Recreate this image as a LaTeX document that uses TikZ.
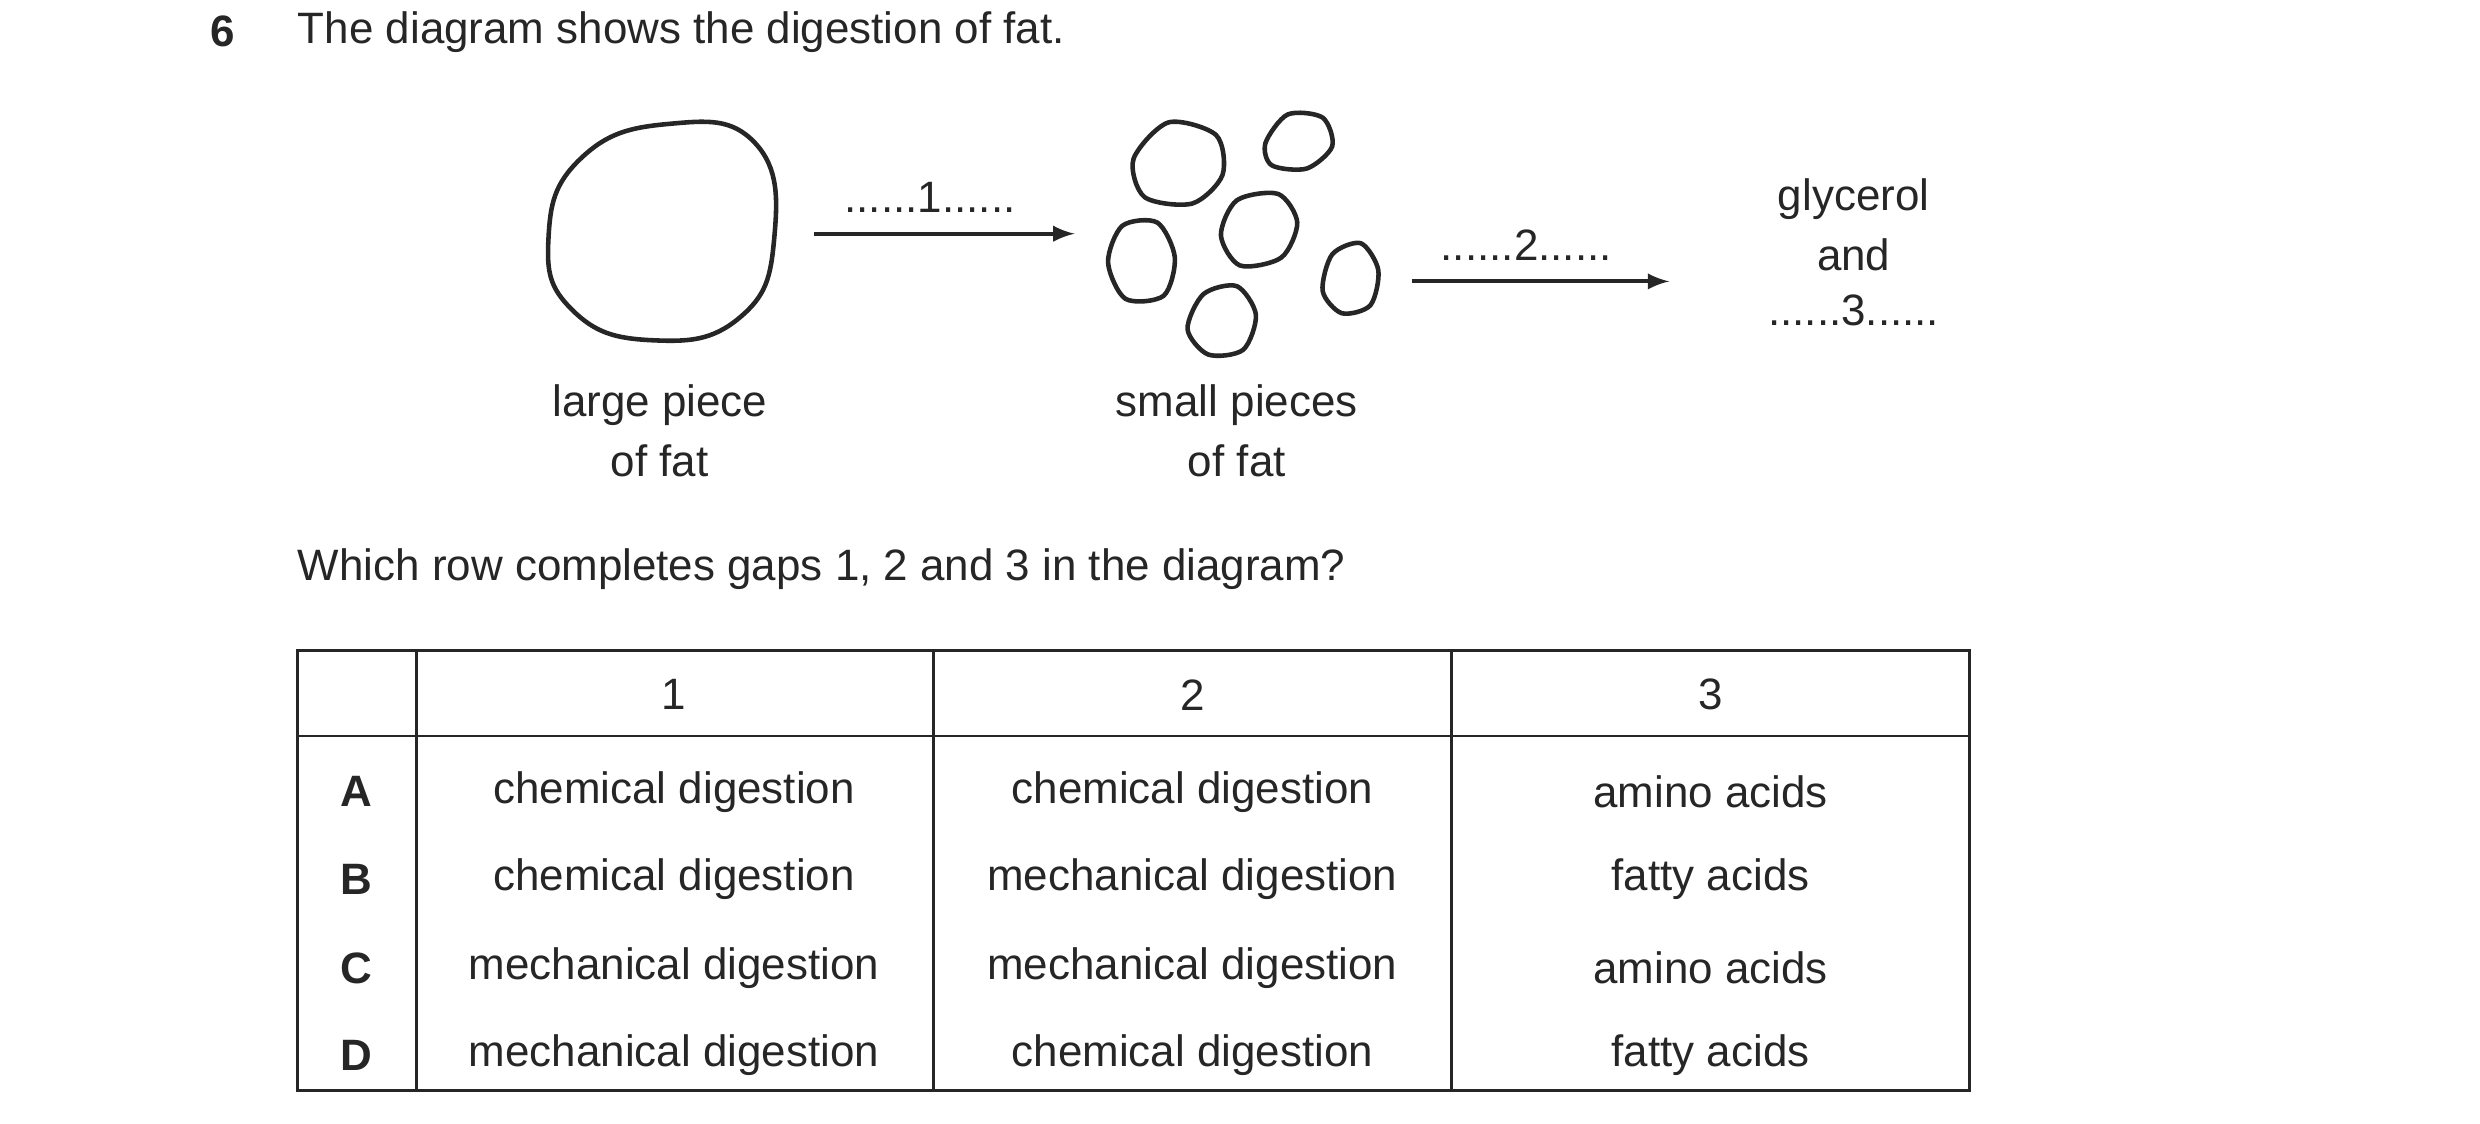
\documentclass[tikz,border=0pt]{standalone}
\usepackage{fontspec}
\setmainfont{Liberation Sans}
\begin{document}
\begin{tikzpicture}[x=0.0159cm,y=-0.0159cm,
  txt/.style={font=\fontsize{12.5pt}{15pt}\selectfont,text=black!85},
  bl/.style={line width=1.3pt,black!85},
  arr/.style={line width=1.1pt,black!85,-latex},
  tl/.style={line width=0.8pt,black!85}]
\useasboundingbox (0,0) rectangle (1560,707);
\node[txt,font=\fontsize{12.5pt}{15pt}\bfseries] (q) at (140,20) {6};
\node[txt,anchor=west,inner sep=0] (title) at (187,20) {The diagram shows the digestion of fat.};
% large blob
\draw[bl] plot[smooth cycle,tension=0.8] coordinates{(345,150)(365,100)(420,78)(475,90)(487,150)(465,200)(410,214)(360,195)};
\node[txt] (lp) at (415,255) {large piece};
\node[txt] (lp2) at (415,290) {of fat};
% small blobs
\draw[bl] plot[smooth cycle] coordinates{(713,100)(735,77)(765,85)(769,110)(750,128)(720,124)};
\draw[bl] plot[smooth cycle] coordinates{(796,90)(810,72)(832,74)(838,92)(822,106)(800,104)};
\draw[bl] plot[smooth cycle] coordinates{(768,148)(778,126)(804,122)(816,140)(806,162)(780,167)};
\draw[bl] plot[smooth cycle] coordinates{(697,165)(706,142)(728,140)(739,162)(732,186)(708,188)};
\draw[bl] plot[smooth cycle] coordinates{(747,207)(757,185)(778,180)(790,198)(782,220)(760,223)};
\draw[bl] plot[smooth cycle] coordinates{(832,183)(838,160)(856,153)(867,170)(862,192)(844,197)};
\node[txt] (sp) at (778,255) {small pieces};
\node[txt] (sp2) at (778,290) {of fat};
% arrows
\coordinate (a1s) at (512,147); \coordinate (a1e) at (676,147);
\draw[arr] (a1s) -- (a1e);
\node[txt] (l1) at (585,124) {......1......};
\coordinate (a2s) at (888,177); \coordinate (a2e) at (1050,177);
\draw[arr] (a2s) -- (a2e);
\node[txt] (l2) at (960,154) {......2......};
\node[txt] (g1) at (1166,125) {glycerol};
\node[txt] (g2) at (1166,160) {and};
\node[txt] (g3) at (1166,195) {......3......};
\node[txt,anchor=west,inner sep=0] (qq) at (187,358) {Which row completes gaps 1, 2 and 3 in the diagram?};
% table
\draw[tl] (187,409) rectangle (1239,686);
\draw[tl] (187,463) -- (1239,463);
\foreach \x in {262,587,913} \draw[tl] (\x,409) -- (\x,686);
\node[txt] (h1) at (424,437) {1};
\node[txt] (h2) at (750,437) {2};
\node[txt] (h3) at (1076,437) {3};
\foreach \y/\L/\a/\b/\c in {498/A/chemical digestion/chemical digestion/amino acids,
  553/B/chemical digestion/mechanical digestion/fatty acids,
  609/C/mechanical digestion/mechanical digestion/amino acids,
  664/D/mechanical digestion/chemical digestion/fatty acids}{
  \node[txt,font=\fontsize{12.5pt}{15pt}\bfseries] at (224,\y) {\L};
  \node[txt] at (424,\y) {\a};
  \node[txt] at (750,\y) {\b};
  \node[txt] at (1076,\y) {\c};
}
\end{tikzpicture}
\end{document}
